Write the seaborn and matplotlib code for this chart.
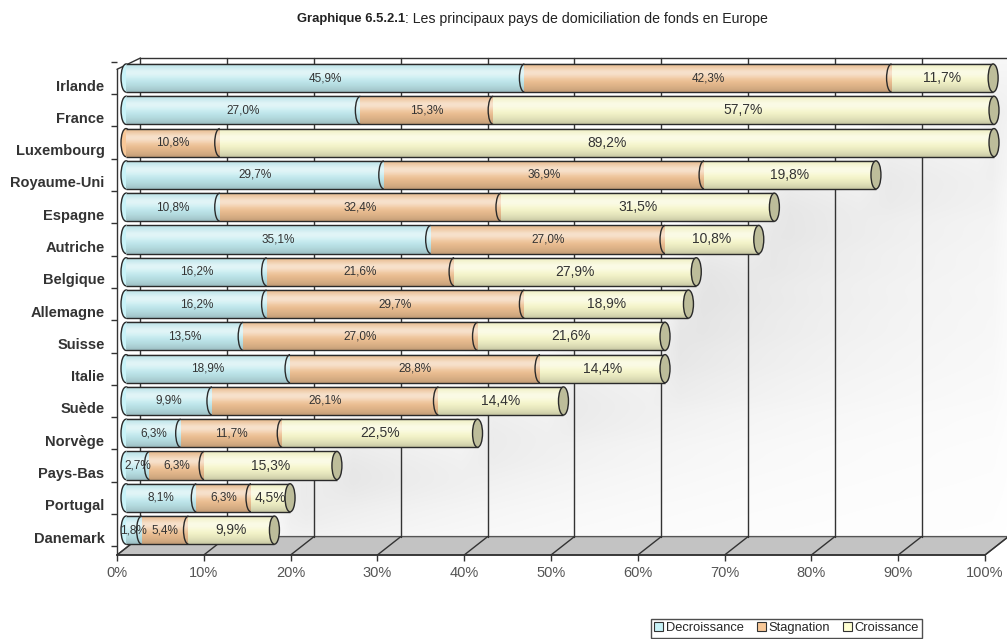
import numpy as np
import pandas as pd
import matplotlib
matplotlib.use("Agg")
import matplotlib.pyplot as plt
import seaborn as sns
from matplotlib.patches import Ellipse, Arc, Polygon, Patch
from matplotlib.transforms import ScaledTranslation

# ---------------- data ----------------
countries = ["Irlande", "France", "Luxembourg", "Royaume-Uni", "Espagne", "Autriche",
             "Belgique", "Allemagne", "Suisse", "Italie", "Suède", "Norvège",
             "Pays-Bas", "Portugal", "Danemark"]
decroissance = [45.9, 27.0, 0.0, 29.7, 10.8, 35.1, 16.2, 16.2, 13.5, 18.9, 9.9, 6.3, 2.7, 8.1, 1.8]
stagnation = [42.3, 15.3, 10.8, 36.9, 32.4, 27.0, 21.6, 29.7, 27.0, 28.8, 26.1, 11.7, 6.3, 6.3, 5.4]
croissance = [11.7, 57.7, 89.2, 19.8, 31.5, 10.8, 27.9, 18.9, 21.6, 14.4, 14.4, 22.5, 15.3, 4.5, 9.9]
series_names = ["Decroissance", "Stagnation", "Croissance"]
tick_values = [0, 10, 20, 30, 40, 50, 60, 70, 80, 90, 100]
tick_labels = [f"{v}%" for v in tick_values]
title_bold = "Graphique 6.5.2.1"
title_rest = ": Les principaux pays de domiciliation de fonds en Europe"

# ---------------- style ----------------
colors = ["#C8F3F8", "#F8C898", "#FFFFD2"]
cap_color = "#BDBD9A"
edge = "#2a2a2a"
sns.set_theme(style="white")
plt.rcParams["font.family"] = ["Liberation Sans", "DejaVu Sans"]

df = pd.DataFrame({"pays": countries, "dec": decroissance, "stag": stagnation, "cro": croissance})
df["c1"] = df["dec"]
df["c2"] = df["dec"] + df["stag"]
df["c3"] = df["c2"] + df["cro"]

fig = plt.figure(figsize=(10.07, 6.39), dpi=100)
ax = fig.add_axes([117 / 1007, 1 - 555 / 639, (985 - 117) / 1007, (555 - 58) / 639])

bar_h = 0.87
cap_w = 1.15
off = 2.7          # 3D depth offset (x units)
y_bot = 14.77
y_back = 14.2
y_top = -0.62
bar_trans = ax.transData + ScaledTranslation(9 / 100, 0, fig.dpi_scale_trans)

# stacked bars drawn through seaborn (largest cumulative first)
for col, c in zip(["c3", "c2", "c1"], colors[::-1]):
    sns.barplot(data=df, y="pays", x=col, orient="h", color=c, saturation=1,
                width=bar_h, edgecolor="none", linewidth=0, ax=ax, zorder=3)
for p in ax.patches:
    p.set_zorder(3)
    p.set_transform(bar_trans)
    p.set_clip_on(False)

# back-wall shadow cast by the bars (soft)
xs = np.linspace(0, 100 + off, 700)
ys = np.linspace(y_top, y_back, 400)
X, Y = np.meshgrid(xs, ys)
shade = np.zeros_like(X)
for i, t in enumerate(df["c3"]):
    band = np.clip(1 - np.abs(Y - (i - 0.6)) / 1.2, 0, 1)
    dist = X - (t + 1.0)
    val = np.where(dist > 0, np.exp(-dist / 28.0), 0) * band
    shade = np.maximum(shade, val)
k = np.ones(90) / 90
shade = np.apply_along_axis(lambda c: np.convolve(c, k, mode="same"), 0, shade)
kx = np.ones(25) / 25
shade = np.apply_along_axis(lambda c: np.convolve(c, kx, mode="same"), 1, shade)
rgba = np.zeros(shade.shape + (4,))
rgba[..., :3] = 0.5
rgba[..., 3] = 0.30 * shade
ax.imshow(rgba, extent=(0, 100 + off, y_back, y_top), origin="upper", aspect="auto",
          zorder=0.3, interpolation="bilinear", clip_on=False)

# floor and walls
floor = Polygon([(0, y_bot), (100, y_bot), (100 + off, y_back), (off, y_back)],
                closed=True, facecolor="#C3C3C3", edgecolor="#555555", lw=1,
                zorder=0.5, clip_on=False)
ax.add_patch(floor)
for v in tick_values:
    ax.plot([v, v + off], [y_bot, y_back], color="#333333", lw=1, zorder=0.6, clip_on=False)
    ax.plot([v + off, v + off], [y_back, y_top], color="#333333", lw=1, zorder=0.6, clip_on=False)
ax.plot([off, 100 + off], [y_top, y_top], color="#333333", lw=1, zorder=0.6, clip_on=False)
ax.plot([0, off], [y_top + 0.35, y_top], color="#333333", lw=1, zorder=0.6, clip_on=False)
ax.plot([0, 0], [y_bot, y_top + 0.35], color="#333333", lw=1, zorder=0.6, clip_on=False)

# cylinder shading gradients
tt = np.linspace(0, 1, 64)
white = np.zeros((64, 1, 4)); white[..., :3] = 1.0
white[:, 0, 3] = 0.55 * np.exp(-((tt - 0.33) / 0.2) ** 2)
black = np.zeros((64, 1, 4))
black[:, 0, 3] = 0.22 * tt ** 3 + 0.10 * (1 - tt) ** 5


def fmt(v):
    return f"{v:.1f}".replace(".", ",") + "%"


for i, row in df.iterrows():
    total = row["c3"]
    segs = [row["dec"], row["stag"], row["cro"]]
    first = next(k for k, s in enumerate(segs) if s > 0)
    ax.add_patch(Ellipse((0, i), cap_w, bar_h, facecolor=colors[first], edgecolor=edge,
                         lw=1, zorder=2.9, clip_on=False, transform=bar_trans))
    for img in (white, black):
        im = ax.imshow(img, extent=(0, total, i + bar_h / 2, i - bar_h / 2), origin="upper",
                       aspect="auto", zorder=3.2, interpolation="bilinear")
        im.set_transform(bar_trans)
        im.set_clip_on(False)
    ax.hlines([i - bar_h / 2, i + bar_h / 2], 0, total, color=edge, lw=1, zorder=3.5,
              transform=bar_trans, clip_on=False)
    start = 0
    for k, s in enumerate(segs):
        if s <= 0:
            continue
        if start > 0:
            ax.add_patch(Arc((start, i), cap_w, bar_h, theta1=90, theta2=270,
                             color=edge, lw=1, zorder=3.5, transform=bar_trans))
        size = 10 if k == 2 else 8.5
        ax.text(start + s / 2, i, fmt(s), ha="center", va="center", fontsize=size,
                color="#333333", zorder=5, transform=bar_trans, clip_on=False)
        start += s
    ax.add_patch(Ellipse((total, i), cap_w, bar_h, facecolor=cap_color, edgecolor=edge,
                         lw=1, zorder=3.6, clip_on=False, transform=bar_trans))

ax.set_xlim(0, 100)
ax.set_ylim(y_bot, y_top)
ax.set_xlabel("")
ax.set_ylabel("")
for s in ["top", "right", "left"]:
    ax.spines[s].set_visible(False)
ax.spines["bottom"].set_bounds(0, 100)
ax.spines["bottom"].set_color("#333333")
ax.set_xticks(tick_values)
ax.set_xticklabels(tick_labels, fontsize=10.5, color="#555555")
ax.tick_params(axis="x", bottom=True, length=4, width=1, color="#333333", pad=4)
ax.set_yticks(range(len(countries)))
ax.set_yticklabels(countries, fontsize=10.5, fontweight="bold", color="#333333")
ax.set_yticks([i + 0.5 for i in range(-1, len(countries))], minor=True)
ax.tick_params(axis="y", which="major", length=0, pad=9)
ax.tick_params(axis="y", which="minor", left=True, length=4, width=1, color="#333333")
for lbl in ax.get_yticklabels():
    lbl.set_transform(lbl.get_transform() + ScaledTranslation(0, -7 / 100, fig.dpi_scale_trans))

# title
fig.text(405 / 1007, 1 - 19 / 639, title_bold, ha="right", va="center", fontsize=9.4,
         fontweight="bold", color="#222222")
fig.text(405 / 1007, 1 - 19 / 639, title_rest, ha="left", va="center", fontsize=10.2,
         color="#222222")

# legend
handles = [Patch(facecolor=c, edgecolor="#333333", lw=0.8) for c in colors]
leg = fig.legend(handles, series_names, loc="upper left",
                 bbox_to_anchor=(651 / 1007, 1 - 619 / 639), ncol=3, fontsize=9.3,
                 frameon=True, fancybox=False, edgecolor="#222222", handlelength=0.7,
                 handleheight=0.7, handletextpad=0.2, columnspacing=1.0,
                 borderpad=0.25, borderaxespad=0)
leg.get_frame().set_linewidth(1)

fig.savefig("out.png", dpi=100)
